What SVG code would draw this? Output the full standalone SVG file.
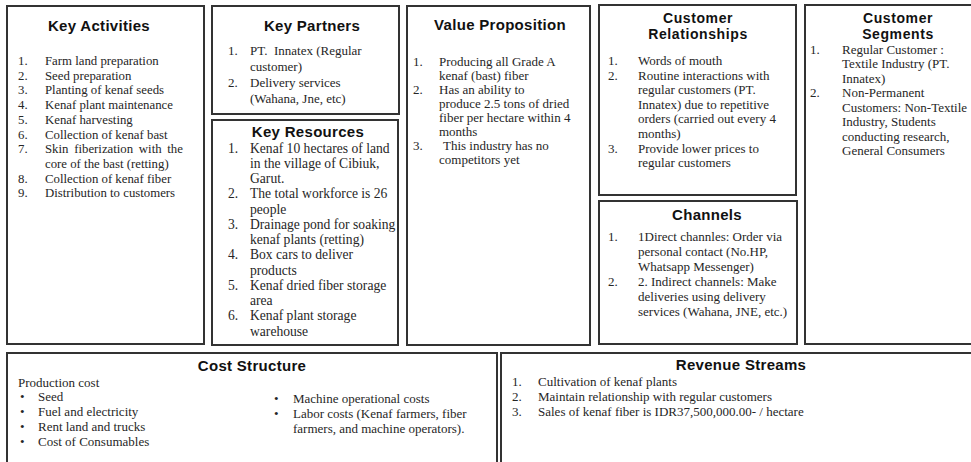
<svg xmlns="http://www.w3.org/2000/svg" width="971" height="462" viewBox="0 0 971 462">
<style>
.bg{fill:#ffffff}
.box{fill:#ffffff;stroke:#333333;stroke-width:2}
.title{font-family:"Liberation Sans",Arial,sans-serif;font-weight:700;font-size:15px;letter-spacing:0.3px;fill:#111111;text-anchor:middle}
.t2{font-size:14px;letter-spacing:0.6px}
.b{font-family:"Liberation Serif","Times New Roman",serif;font-size:13px;fill:#262626}
.ka{font-size:12.8px}
.kr{font-size:13.6px}
</style>
<rect class="bg" x="0" y="0" width="971" height="462"/>

<g id="key-activities">
<rect class="box" x="7" y="6" width="197" height="338"/>
<text class="title" x="99" y="31">Key Activities</text>
<g class="b ka">
<text x="18" y="65">1.</text><text x="45" y="65">Farm land preparation</text>
<text x="18" y="79.7">2.</text><text x="45" y="79.7">Seed preparation</text>
<text x="18" y="94.4">3.</text><text x="45" y="94.4">Planting of kenaf seeds</text>
<text x="18" y="109.1">4.</text><text x="45" y="109.1">Kenaf plant maintenance</text>
<text x="18" y="123.8">5.</text><text x="45" y="123.8">Kenaf harvesting</text>
<text x="18" y="138.5">6.</text><text x="45" y="138.5">Collection of kenaf bast</text>
<text x="18" y="153.2">7.</text><text x="45" y="153.2" word-spacing="2.5">Skin fiberization with the</text>
<text x="45" y="167.9">core of the bast (retting)</text>
<text x="18" y="182.6">8.</text><text x="45" y="182.6">Collection of kenaf fiber</text>
<text x="18" y="197.3">9.</text><text x="45" y="197.3">Distribution to customers</text>
</g>
</g>

<g id="key-partners">
<rect class="box" x="212" y="6" width="187" height="108"/>
<text class="title" x="312" y="30.5">Key Partners</text>
<g class="b">
<text x="228" y="55">1.</text><text x="250" y="55">PT.&#160; Innatex (Regular</text>
<text x="250" y="71">customer)</text>
<text x="228" y="87">2.</text><text x="250" y="87">Delivery services</text>
<text x="250" y="103">(Wahana, Jne, etc)</text>
</g>
</g>

<g id="key-resources">
<rect class="box" x="212" y="120" width="186" height="225"/>
<text class="title" x="308" y="136.5">Key Resources</text>
<g class="b kr">
<text x="228" y="152.5">1.</text><text x="250" y="152.5">Kenaf 10 hectares of land</text>
<text x="250" y="167.8">in the village of Cibiuk,</text>
<text x="250" y="183">Garut.</text>
<text x="228" y="198.3">2.</text><text x="250" y="198.3">The total workforce is 26</text>
<text x="250" y="213.5">people</text>
<text x="228" y="228.8">3.</text><text x="250" y="228.8">Drainage pond for soaking</text>
<text x="250" y="244">kenaf plants (retting)</text>
<text x="228" y="259.3">4.</text><text x="250" y="259.3">Box cars to deliver</text>
<text x="250" y="274.5">products</text>
<text x="228" y="289.8">5.</text><text x="250" y="289.8">Kenaf dried fiber storage</text>
<text x="250" y="305">area</text>
<text x="228" y="320.3">6.</text><text x="250" y="320.3">Kenaf plant storage</text>
<text x="250" y="335.6">warehouse</text>
</g>
</g>

<g id="value-proposition">
<rect class="box" x="407" y="6" width="183" height="339"/>
<text class="title" x="500" y="30">Value Proposition</text>
<g class="b">
<text x="413" y="66">1.</text><text x="439" y="66">Producing all Grade A</text>
<text x="439" y="80">kenaf (bast) fiber</text>
<text x="413" y="94">2.</text><text x="439" y="94">Has an ability to</text>
<text x="439" y="108">produce 2.5 tons of dried</text>
<text x="439" y="122">fiber per hectare within 4</text>
<text x="439" y="136">months</text>
<text x="413" y="150">3.</text><text x="443" y="150">This industry has no</text>
<text x="439" y="164">competitors yet</text>
</g>
</g>

<g id="customer-relationships">
<rect class="box" x="599" y="5" width="197" height="190"/>
<text class="title t2" x="698" y="22.5">Customer</text>
<text class="title t2" x="698" y="38.5">Relationships</text>
<g class="b">
<text x="608" y="65">1.</text><text x="638" y="65">Words of mouth</text>
<text x="608" y="79.6">2.</text><text x="638" y="79.6">Routine interactions with</text>
<text x="638" y="94.2">regular customers (PT.</text>
<text x="638" y="108.8">Innatex) due to repetitive</text>
<text x="638" y="123.4">orders (carried out every 4</text>
<text x="638" y="138">months)</text>
<text x="608" y="152.6">3.</text><text x="638" y="152.6">Provide lower prices to</text>
<text x="638" y="167.2">regular customers</text>
</g>
</g>

<g id="channels">
<rect class="box" x="599" y="201" width="198" height="143"/>
<text class="title" x="707" y="220">Channels</text>
<g class="b">
<text x="608" y="241">1.</text><text x="638" y="241">1Direct channles: Order via</text>
<text x="638" y="256">personal contact (No.HP,</text>
<text x="638" y="271">Whatsapp Messenger)</text>
<text x="608" y="286">2.</text><text x="638" y="286">2. Indirect channels: Make</text>
<text x="638" y="301">deliveries using delivery</text>
<text x="638" y="316">services (Wahana, JNE, etc.)</text>
</g>
</g>

<g id="customer-segments">
<rect class="box" x="805" y="5" width="180" height="339"/>
<text class="title t2" x="898" y="22.5">Customer</text>
<text class="title t2" x="898" y="38.5">Segments</text>
<g class="b">
<text x="810" y="53.5">1.</text><text x="842" y="53.5">Regular Customer :</text>
<text x="842" y="68">Textile Industry (PT.</text>
<text x="842" y="82.5">Innatex)</text>
<text x="810" y="97">2.</text><text x="842" y="97">Non-Permanent</text>
<text x="842" y="111.5">Customers: Non-Textile</text>
<text x="842" y="126">Industry, Students</text>
<text x="842" y="140.5">conducting research,</text>
<text x="842" y="155">General Consumers</text>
</g>
</g>

<g id="cost-structure">
<rect class="box" x="7" y="353" width="490" height="120"/>
<text class="title" x="252" y="371">Cost Structure</text>
<g class="b">
<text x="18" y="386.5">Production cost</text>
<text x="20" y="401">•</text><text x="38" y="401">Seed</text>
<text x="20" y="416">•</text><text x="38" y="416">Fuel and electricity</text>
<text x="20" y="431">•</text><text x="38" y="431">Rent land and trucks</text>
<text x="20" y="446">•</text><text x="38" y="446">Cost of Consumables</text>
<text x="274" y="403">•</text><text x="293" y="403">Machine operational costs</text>
<text x="274" y="418">•</text><text x="293" y="418">Labor costs (Kenaf farmers, fiber</text>
<text x="293" y="432.5">farmers, and machine operators).</text>
</g>
</g>

<g id="revenue-streams">
<rect class="box" x="501" y="353" width="480" height="120"/>
<text class="title" x="741" y="369.5">Revenue Streams</text>
<g class="b">
<text x="512" y="386">1.</text><text x="538" y="386">Cultivation of kenaf plants</text>
<text x="512" y="401">2.</text><text x="538" y="401">Maintain relationship with regular customers</text>
<text x="512" y="416">3.</text><text x="538" y="416">Sales of kenaf fiber is IDR37,500,000.00- / hectare</text>
</g>
</g>
</svg>
